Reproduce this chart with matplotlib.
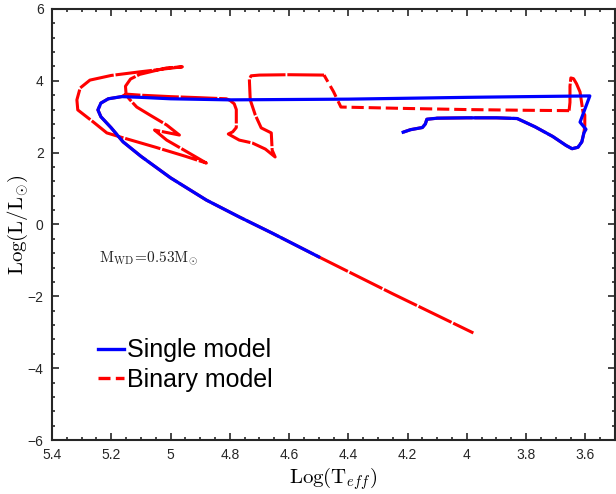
import matplotlib
matplotlib.use('Agg')
import matplotlib.pyplot as plt
from matplotlib.lines import Line2D
from matplotlib.ticker import MultipleLocator, FuncFormatter

plt.rcParams['font.family'] = ['Liberation Sans', 'DejaVu Sans']
plt.rcParams['mathtext.fontset'] = 'cm'

# shared RGB part (both models overlap here)
rgb_x = [4.215, 4.19, 4.15, 4.14, 4.135, 4.10, 4.00, 3.90, 3.83, 3.77, 3.71,
         3.665, 3.645, 3.625, 3.612, 3.605]
rgb_y = [2.57, 2.64, 2.70, 2.80, 2.93, 2.96, 2.97, 2.97, 2.95, 2.72, 2.45,
         2.20, 2.11, 2.15, 2.30, 2.55]

# cooling track shared by both models (top part)
cool_x = [5.165, 5.21, 5.235, 5.245, 5.235, 5.20, 5.16, 5.10, 5.00, 4.879, 4.768, 4.657, 4.50]
cool_y = [3.56, 3.50, 3.38, 3.19, 3.00, 2.69, 2.30, 1.90, 1.30, 0.68, 0.21, -0.24, -0.90]

# single model: rise at the right, then the horizontal crossing
single_x = [3.598, 3.618, 3.585, 3.80, 4.00, 4.40, 4.80, 5.00, 5.10]
single_y = [2.65, 2.85, 3.58, 3.56, 3.54, 3.49, 3.47, 3.50, 3.54]

# binary model, part 1: rise at the right
bin_rise_x = [3.602, 3.602, 3.608, 3.618, 3.630, 3.640, 3.649, 3.652, 3.652, 3.655]
bin_rise_y = [2.75, 3.05, 3.13, 3.69, 3.92, 4.06, 4.08, 3.85, 3.40, 3.17]

# binary model, part 2: fast crossing (sparse points)
bin_jump_x = [3.655, 3.80, 4.00, 4.20, 4.425, 4.45, 4.482]
bin_jump_y = [3.17, 3.18, 3.20, 3.23, 3.27, 3.70, 4.16]

# binary model, part 3: loops before the cooling track
bin_loop_x = [4.482, 4.60, 4.70, 4.728, 4.734, 4.731,
              4.714, 4.694, 4.66, 4.657, 4.647, 4.68, 4.724, 4.768, 4.805, 4.79,
              4.778, 4.778, 4.785, 4.800, 4.812, 4.90, 5.00, 5.10, 5.15,
              5.152, 5.135, 5.104, 5.013, 4.96,
              5.104, 5.20, 5.272, 5.305, 5.316, 5.313, 5.26, 5.215, 5.171,
              5.05, 4.95, 4.879,
              4.95, 5.013, 5.054, 4.97,
              5.013, 5.07, 5.114, 5.14, 5.15]
bin_loop_y = [4.16, 4.17, 4.16, 4.14, 4.05, 3.47,
              3.05, 2.69, 2.55, 2.07, 1.88, 2.10, 2.27, 2.35, 2.52, 2.58,
              2.70, 3.20, 3.36, 3.46, 3.50, 3.53, 3.56, 3.60, 3.63,
              3.85, 4.05, 4.18, 4.36, 4.39,
              4.25, 4.15, 4.02, 3.80, 3.47, 3.19, 2.85, 2.55, 2.44,
              2.15, 1.90, 1.71,
              2.05, 2.35, 2.63, 2.49,
              2.77, 3.05, 3.27, 3.50, 3.63]

# binary cooling track keeps going after the single one stops
tail_x = [4.25, 3.978]
tail_y = [-1.93, -3.02]

xticks = [5.4, 5.2, 5.0, 4.8, 4.6, 4.4, 4.2, 4.0, 3.8, 3.6]
yticks = [-6, -4, -2, 0, 2, 4, 6]

fig = plt.figure(figsize=(6.16, 4.94), dpi=100)
ax = fig.add_axes([0.0844, 0.1093, 0.9140, 0.8725])

RED = '#ff0000'
BLUE = '#0000ff'
dense = (0, (12, 0.6))

ax.plot(rgb_x + bin_rise_x, rgb_y + bin_rise_y, color=RED, lw=2.2,
        linestyle=dense, zorder=2)
ax.plot(bin_jump_x, bin_jump_y, color=RED, lw=2.2, linestyle=(0, (4, 1.6)), zorder=2)
ax.plot(bin_loop_x + cool_x + tail_x, bin_loop_y + cool_y + tail_y, color=RED,
        lw=2.2, linestyle=dense, zorder=2)
ax.plot(rgb_x + single_x + cool_x, rgb_y + single_y + cool_y, color=BLUE,
        lw=2.3, solid_joinstyle='round', zorder=3)

ax.text(5.24, -0.93, r'$\mathrm{M_{WD}\!=\!0.53M_{\odot}}$', fontsize=11,
        ha='left', va='center', color='#222222')

handles = [Line2D([], [], color=BLUE, lw=2.4),
           Line2D([], [], color=RED, lw=2.4, linestyle=(0, (3.6, 1.6)))]
ax.legend(handles, ['Single model', 'Binary model'], loc='upper left',
          bbox_to_anchor=(0.082, 0.236), frameon=False, fontsize=18,
          handlelength=1.05, handletextpad=0.12, labelspacing=0.22,
          borderpad=0, borderaxespad=0)

ax.set_xlim(5.4, 3.5)
ax.set_ylim(-6, 6)
ax.set_xticks(xticks)
ax.set_yticks(yticks)
ax.xaxis.set_major_formatter(FuncFormatter(lambda v, p: f'{v:g}'))
ax.xaxis.set_minor_locator(MultipleLocator(0.05))
ax.yaxis.set_minor_locator(MultipleLocator(0.4))
ax.tick_params(which='both', direction='in', top=True, right=True,
               colors='#262626', labelsize=10, width=1.2)
ax.tick_params(which='major', length=5, pad=6)
ax.tick_params(which='minor', length=2.5)
for s in ax.spines.values():
    s.set_linewidth(1.5)
    s.set_color('#262626')

ax.set_xlabel(r'$\mathrm{Log(T}_{eff})$', fontsize=15, labelpad=2)
ax.set_ylabel(r'$\mathrm{Log(L/L_{\odot})}$', fontsize=15, labelpad=-2)

fig.savefig('out.png', dpi=100)
